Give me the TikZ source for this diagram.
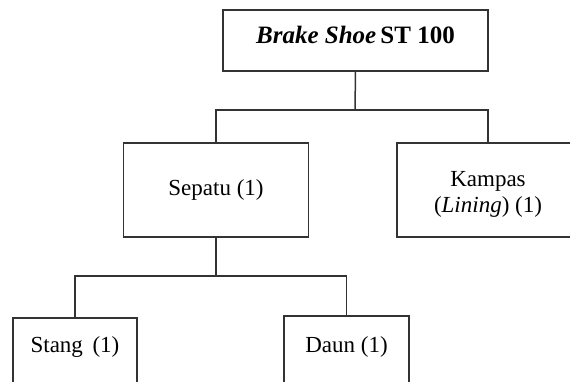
\documentclass[tikz,border=0pt]{standalone}
\usepackage{fontspec}
\setmainfont{Liberation Serif}
\begin{document}
\begin{tikzpicture}[x=1pt,y=-1pt,
  box/.style={draw=black!80, line width=1.5pt, fill=white, align=center, inner sep=0pt},
  conn/.style={draw=black!80, line width=1.5pt},
  txt/.style={font=\fontsize{23}{24}\selectfont}]
\useasboundingbox (0,0) rectangle (570,381);
\clip (0,0) rectangle (570,381);
% nodes
\node[box, minimum width=265pt, minimum height=61pt, font=\fontsize{25}{26}\selectfont]
  (top) at (355.5,40.5) {\raisebox{-3pt}[0pt][0pt]{\bfseries\itshape Brake Shoe\,\upshape ST 100}};
\node[box, txt, minimum width=185pt, minimum height=94pt] (sep) at (216,190) {Sepatu (1)};
\node[box, txt, minimum width=182pt, minimum height=94pt] (kam) at (488,190)
  {\raisebox{-22pt}[0pt][0pt]{\shortstack{Kampas\\[2pt](\textit{Lining}) (1)}}};
\node[box, txt, minimum width=124pt, text height=35pt, text depth=70pt, anchor=north]
  (sta) at (75,317) {Stang\, (1)};
\node[box, txt, minimum width=125pt, text height=37pt, text depth=70pt, anchor=north]
  (dau) at (346.5,315) {Daun (1)};
% bus coordinates
\coordinate (bus1) at (355,110);
\coordinate (bus2) at (216,276);
% connectors
\draw[conn] (top.south) -- (bus1);
\draw[conn] (sep.north) |- (bus1) -| (kam.north);
\draw[conn] (sep.south) -- (bus2);
\draw[conn] (sta.north) |- (bus2) -| (dau.north);
\end{tikzpicture}
\end{document}
